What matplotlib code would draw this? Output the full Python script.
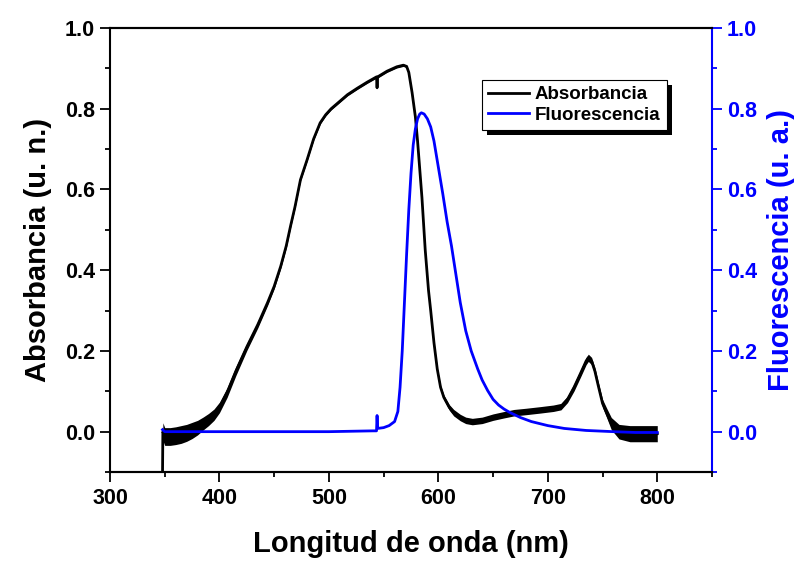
import matplotlib
matplotlib.use("Agg")
import matplotlib.pyplot as plt
from matplotlib.ticker import MultipleLocator
from matplotlib.patches import Rectangle
from matplotlib.lines import Line2D
import numpy as np

# ---------------- data ----------------
abs_wl = [348, 348.3, 350, 355, 360, 365, 370, 375, 380, 385, 390, 395, 400, 407,
          415, 425, 435, 444, 450, 456, 461, 465, 469, 474, 480, 486, 492, 497,
          502, 508, 517, 526, 535, 543.5, 544, 544.5, 553, 562, 568, 571, 573,
          576, 579, 581, 583, 585, 588, 591, 593, 596, 599, 602, 605, 610, 614,
          620, 625, 631, 640, 650, 660, 669, 680, 693, 705, 712, 718, 724, 730,
          735, 737, 740, 743, 746, 750, 754, 758, 765, 775, 785, 795, 800]
abs_val = [-0.10, 0.0, -0.012, -0.012, -0.01, -0.007, -0.003, 0.003, 0.01, 0.02,
           0.03, 0.042, 0.06, 0.097, 0.15, 0.21, 0.265, 0.32, 0.36, 0.41, 0.46,
           0.51, 0.557, 0.624, 0.673, 0.725, 0.765, 0.785, 0.8, 0.814, 0.835,
           0.851, 0.866, 0.879, 0.852, 0.879, 0.893, 0.904, 0.908, 0.905, 0.89,
           0.84, 0.78, 0.72, 0.65, 0.58, 0.45, 0.35, 0.30, 0.22, 0.155, 0.11,
           0.085, 0.06, 0.047, 0.035, 0.028, 0.025, 0.028, 0.036, 0.042, 0.047,
           0.05, 0.054, 0.058, 0.062, 0.08, 0.11, 0.145, 0.175, 0.183, 0.175,
           0.15, 0.115, 0.07, 0.045, 0.02, 0.0, -0.005, -0.005, -0.005, -0.005]
# half-width of the visible noise band around the absorbance trace
abs_noise = [0.0, 0.022, 0.022, 0.022, 0.022, 0.022, 0.021, 0.02, 0.018, 0.016,
             0.015, 0.014, 0.013, 0.012, 0.011, 0.009, 0.008, 0.007, 0.006, 0.005,
             0.005, 0.004, 0.004, 0.003, 0.003, 0.003, 0.003, 0.003, 0.003, 0.003,
             0.003, 0.003, 0.003, 0.003, 0.003, 0.003, 0.003, 0.003, 0.003, 0.003,
             0.003, 0.003, 0.003, 0.003, 0.003, 0.003, 0.003, 0.003, 0.003, 0.003,
             0.004, 0.005, 0.006, 0.007, 0.008, 0.008, 0.008, 0.008, 0.008, 0.008,
             0.008, 0.008, 0.008, 0.008, 0.008, 0.008, 0.008, 0.009, 0.009, 0.009,
             0.009, 0.009, 0.009, 0.009, 0.01, 0.012, 0.015, 0.018, 0.02, 0.02,
             0.02, 0.02]

fl_wl = [348, 350, 400, 450, 500, 540, 543.5, 544, 544.5, 550, 555, 560, 563, 565,
         567, 569, 571, 573, 575, 577, 579, 581, 583, 584.5, 587, 590, 593, 596,
         600, 604, 608, 612, 616, 620, 625, 630, 636, 640, 645, 650, 655, 660,
         665, 675, 685, 700, 715, 735, 760, 780, 800]
fl_val = [0.005, 0.0, 0.0, 0.0, 0.0, 0.002, 0.002, 0.04, 0.008, 0.01, 0.015, 0.025,
          0.05, 0.11, 0.2, 0.32, 0.44, 0.55, 0.64, 0.71, 0.75, 0.775, 0.787, 0.79,
          0.787, 0.775, 0.755, 0.72, 0.655, 0.59, 0.52, 0.46, 0.39, 0.32, 0.25,
          0.2, 0.155, 0.128, 0.102, 0.08, 0.066, 0.056, 0.048, 0.035, 0.025, 0.015,
          0.008, 0.003, 0.0, -0.002, -0.002]

x_ticks = [300, 400, 500, 600, 700, 800]
y_ticks = [0.0, 0.2, 0.4, 0.6, 0.8, 1.0]

# ---------------- figure ----------------
plt.rcParams['font.family'] = ['Liberation Sans', 'DejaVu Sans']
plt.rcParams['font.weight'] = 'bold'

BLUE = '#0000FF'
fig = plt.figure(figsize=(8.0, 5.61), dpi=100)
ax = fig.add_axes([0.1375, 0.1586, 0.7525, 0.7914])
ax2 = ax.twinx()

aw = np.array(abs_wl); av = np.array(abs_val); an = np.array(abs_noise)
ax.fill_between(aw, av - an, av + an, color='black', lw=0)
ax.plot(aw, av, color='black', lw=2.0)
ax2.plot(fl_wl, fl_val, color=BLUE, lw=2.0)

for a in (ax, ax2):
    a.set_xlim(300, 850)
    a.set_ylim(-0.1, 1.0)

ax.set_xticks(x_ticks)
ax.xaxis.set_minor_locator(MultipleLocator(50))
ax.set_yticks(y_ticks)
ax.yaxis.set_minor_locator(MultipleLocator(0.1))
ax2.set_yticks(y_ticks)
ax2.yaxis.set_minor_locator(MultipleLocator(0.1))
ax.set_yticklabels([f"{v:.1f}" for v in y_ticks])
ax2.set_yticklabels([f"{v:.1f}" for v in y_ticks])

ax.tick_params(axis='both', which='major', direction='out', length=7.2, width=1.3,
               labelsize=15.5, pad=3.6)
ax.tick_params(axis='both', which='minor', direction='out', length=3.6, width=1.3)
ax.tick_params(axis='x', which='major', pad=4.5)
ax2.tick_params(axis='y', which='major', direction='out', length=7.2, width=1.3,
                labelsize=15.5, pad=3.6, colors=BLUE)
ax2.tick_params(axis='y', which='minor', direction='out', length=3.6, width=1.3,
                colors=BLUE)

for a in (ax, ax2):
    for s in a.spines.values():
        s.set_linewidth(1.5)
ax2.spines['right'].set_color(BLUE)
ax.spines['right'].set_visible(False)
ax2.spines['left'].set_visible(False)

for lab in ax.get_xticklabels() + ax.get_yticklabels() + ax2.get_yticklabels():
    lab.set_fontweight('bold')

ax.set_xlabel('Longitud de onda (nm)', fontsize=21, fontweight='bold', labelpad=15)
ax.set_ylabel('Absorbancia (u. n.)', fontsize=21, fontweight='bold', labelpad=9)
ax2.set_ylabel('Fluorescencia (u. a.)', fontsize=21, fontweight='bold', color=BLUE,
               labelpad=7)

# legend
handles = [Line2D([], [], color='black', lw=2), Line2D([], [], color=BLUE, lw=2)]
leg = ax2.legend(handles, ['Absorbancia', 'Fluorescencia'], loc='upper left',
                 bbox_to_anchor=(0.618, 0.883), fontsize=13.5, frameon=True,
                 fancybox=False, edgecolor='black', framealpha=1,
                 handlelength=2.2, handletextpad=0.3, borderpad=0.32,
                 labelspacing=0.18, borderaxespad=0)
leg.get_frame().set_linewidth(0.8)
for t in leg.get_texts():
    t.set_fontweight('bold')
leg.set_zorder(6)

fig.canvas.draw()
bb = leg.get_window_extent()
off = 5
shadow = Rectangle((bb.x0 + off, bb.y0 - off), bb.width, bb.height,
                   transform=None, facecolor='black', edgecolor='none',
                   clip_on=False, zorder=5.5)
ax2.add_patch(shadow)

fig.savefig('out.png', dpi=100)
